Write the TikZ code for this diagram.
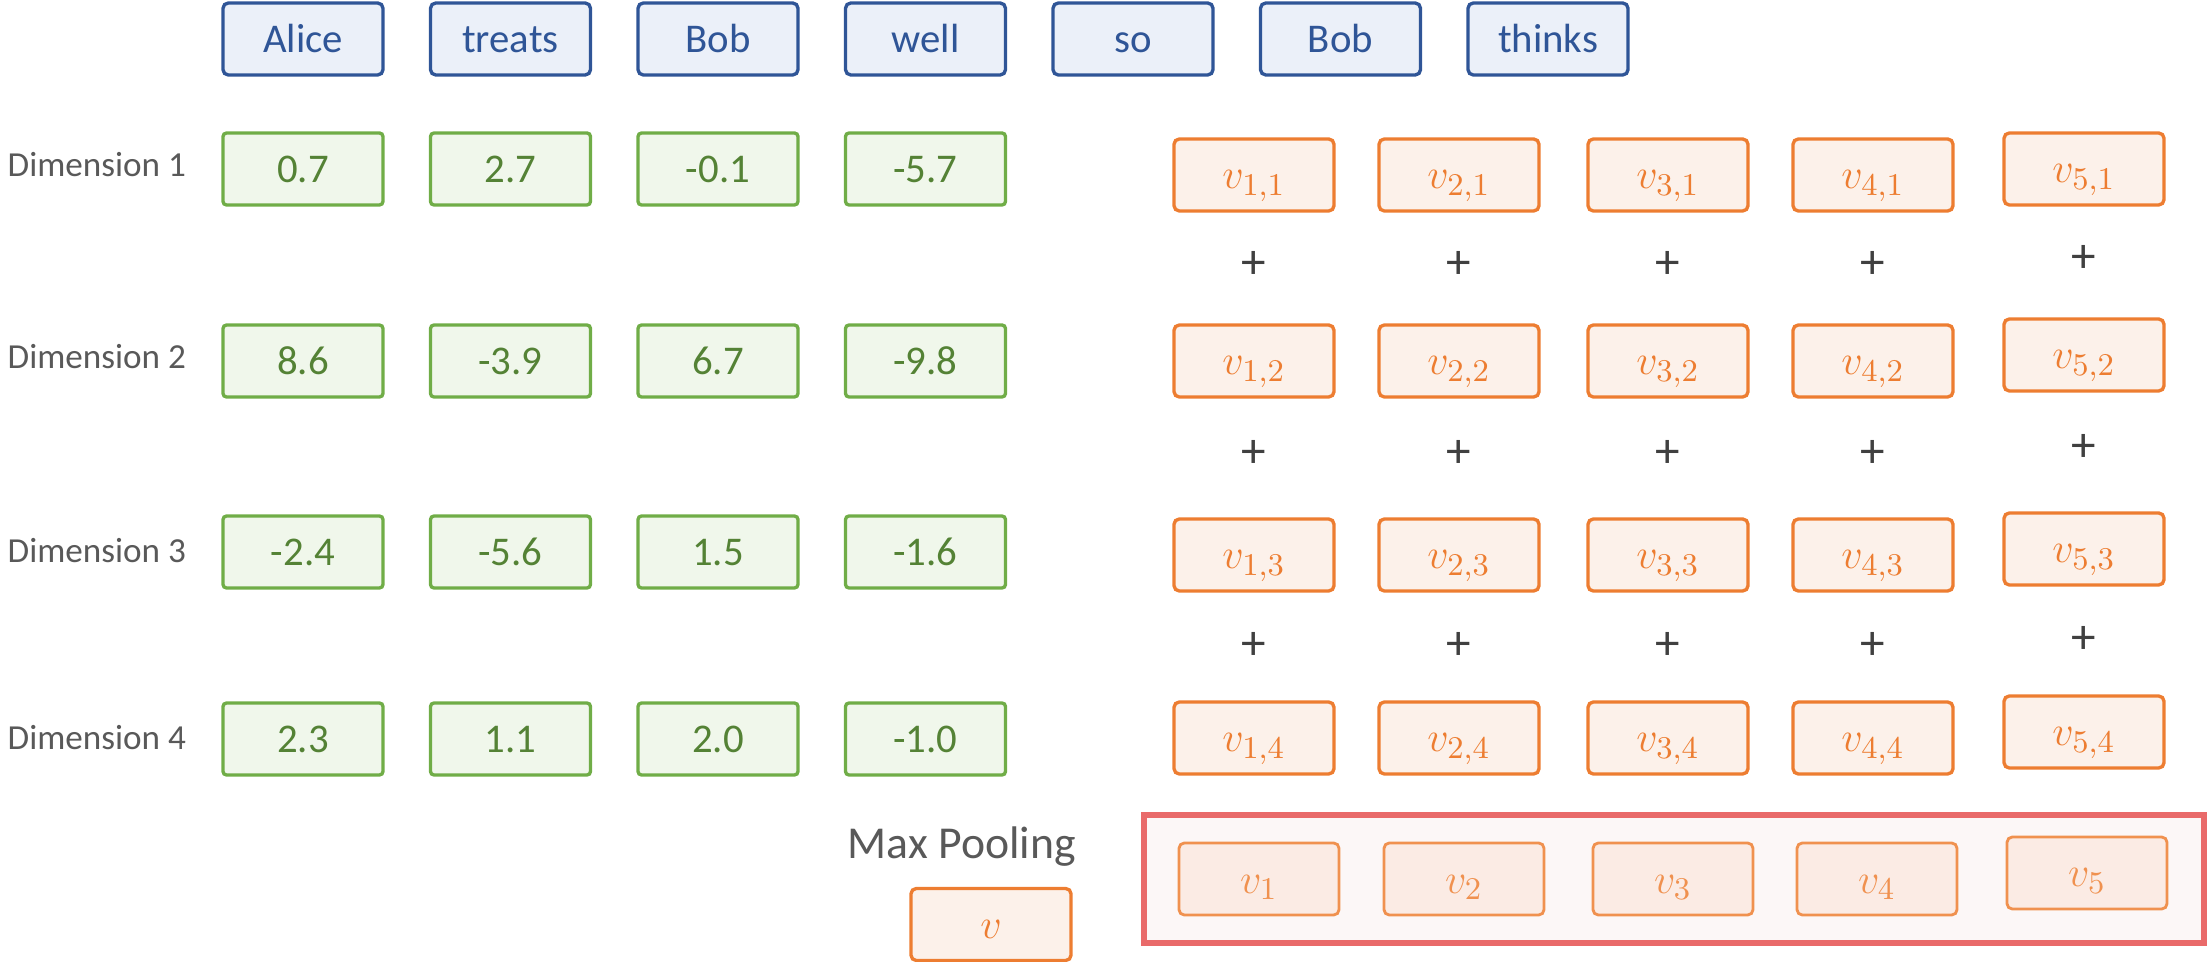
\documentclass[tikz,border=0pt]{standalone}
\usepackage{fontspec}
\setmainfont{Carlito}
\usepackage{tikz}
\usetikzlibrary{positioning}
\definecolor{wordline}{HTML}{2F5597}
\definecolor{wordfill}{HTML}{EBF0F9}
\definecolor{valline}{HTML}{70AD47}
\definecolor{valfill}{HTML}{F0F7EB}
\definecolor{valtext}{HTML}{548235}
\definecolor{cellline}{HTML}{ED7D31}
\definecolor{cellfill}{HTML}{FCF1EA}
\definecolor{poolline}{HTML}{F0914F}
\definecolor{poolfill}{HTML}{FBEBE4}
\definecolor{boxline}{HTML}{E96A6A}
\definecolor{boxfill}{HTML}{FCF7F7}
\definecolor{labelgray}{HTML}{595959}
\definecolor{plusgray}{HTML}{404040}
\tikzstyle{every node}+=[inner sep=0pt]
\tikzstyle{word} = [rectangle, draw=wordline, fill=wordfill, text=wordline, line width=0.95pt, rounded corners=1.5pt, minimum width=1.6cm, minimum height=0.72cm, text height=0.27cm, text depth=0pt, font=\fontsize{11.6}{14}\selectfont]
\tikzstyle{val} = [word, draw=valline, fill=valfill, text=valtext, rounded corners=1pt]
\tikzstyle{cell} = [word, draw=cellline, fill=cellfill, text=cellline, text height=0.28cm, font=\fontsize{12.5}{15}\selectfont]
\tikzstyle{pooled} = [cell, draw=poolline, fill=poolfill, text=poolline, line width=0.8pt]
\tikzstyle{plus} = [text=plusgray, font=\fontsize{14}{16}\selectfont]
\tikzstyle{dimlabel} = [anchor=west, text=labelgray, font=\fontsize{10}{12}\selectfont]

\begin{document}
\begin{tikzpicture}[node distance=2.075cm]
\useasboundingbox (0,0) rectangle (22.11,-9.62);
% Input words
\node [word] (w1) at (3.03,-0.39) {Alice};
\node [word, right of=w1] (w2) {treats};
\node [word, right of=w2] (w3) {Bob};
\node [word, right of=w3] (w4) {well};
\node [word, right of=w4] (w5) {so};
\node [word, right of=w5] (w6) {Bob};
\node [word, right of=w6] (w7) {thinks};
% Dimension labels
\node [dimlabel] (l1) at (0.07,-1.645) {Dimension 1};
\node [dimlabel] (l2) at (0.07,-3.57) {Dimension 2};
\node [dimlabel] (l3) at (0.07,-5.505) {Dimension 3};
\node [dimlabel] (l4) at (0.07,-7.38) {Dimension 4};
% Embedding values, one row per dimension
\node [val] (d11) at (3.03,-1.69) {0.7};
\node [val, right of=d11] (d12) {2.7};
\node [val, right of=d12] (d13) {-0.1};
\node [val, right of=d13] (d14) {-5.7};
\node [val, below of=d11, node distance=1.92cm] (d21) {8.6};
\node [val, right of=d21] (d22) {-3.9};
\node [val, right of=d22] (d23) {6.7};
\node [val, right of=d23] (d24) {-9.8};
\node [val, below of=d21, node distance=1.91cm] (d31) {-2.4};
\node [val, right of=d31] (d32) {-5.6};
\node [val, right of=d32] (d33) {1.5};
\node [val, right of=d33] (d34) {-1.6};
\node [val, below of=d31, node distance=1.87cm] (d41) {2.3};
\node [val, right of=d41] (d42) {1.1};
\node [val, right of=d42] (d43) {2.0};
\node [val, right of=d43] (d44) {-1.0};
% Feature grid v_{i,j} with the sums between rows
\foreach \c/\x/\dy in {1/12.54/0, 2/14.59/0, 3/16.68/0, 4/18.73/0, 5/20.84/0.06} {
  \foreach \r/\y in {1/1.75, 2/3.61, 3/5.55, 4/7.38}
    \node [cell] (v\c\r) at (\x,-\y+\dy) {$v_{\c,\r}$};
  \foreach \r/\y in {1/2.65, 2/4.54, 3/6.46}
    \node [plus] (p\c\r) at (\x,-\y+\dy) {+};
}
% Max pooling result
\node [anchor=base west, text=labelgray, font=\fontsize{13}{15}\selectfont] (mp) at (8.47,-8.58) {Max Pooling};
\node [cell] (vmax) at (9.91,-9.245) {$v$};
\node [rectangle, draw=boxline, fill=boxfill, line width=1.7pt, minimum width=10.6cm, minimum height=1.28cm] (pool) at (16.74,-8.79) {};
\foreach \c/\x/\dy in {1/12.59/0, 2/14.64/0, 3/16.73/0, 4/18.77/0, 5/20.87/0.06}
  \node [pooled] (u\c) at (\x,-8.79+\dy) {$v_{\c}$};
\end{tikzpicture}
\end{document}
